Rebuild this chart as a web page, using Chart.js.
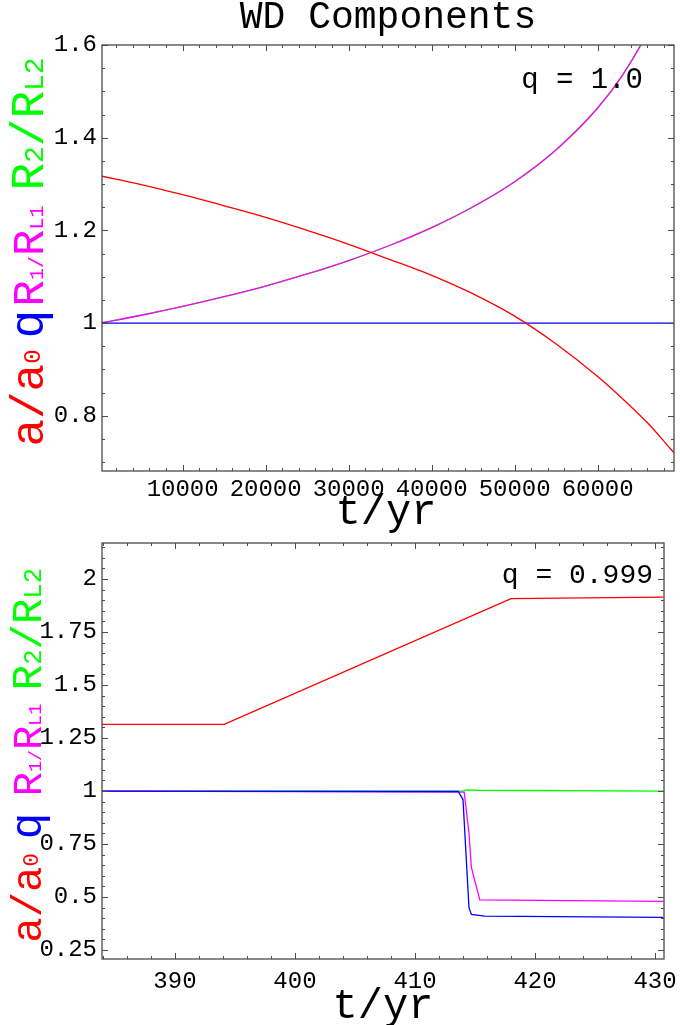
<!DOCTYPE html>
<html>
<head>
<meta charset="utf-8">
<title>WD Components</title>
<script src="https://cdn.jsdelivr.net/npm/chart.js@4.4.1/dist/chart.umd.min.js"></script>
<style>
body { margin: 0; background: #fff; width: 680px; height: 1025px; position: relative; overflow: hidden; }
canvas { position: absolute; left: 0; }
#topPanel { top: 0; }
#bottomPanel { top: 535px; }
</style>
</head>
<body>
<canvas id="topPanel" width="680" height="540"></canvas>
<canvas id="bottomPanel" width="680" height="490"></canvas>
<script>
// ===== top panel data (q = 1.0), time in yr
const topTime = [0, 5000, 10000, 15000, 20000, 25000, 30000, 35000, 40000, 45000, 50000, 55000, 60000, 63000, 66000, 68000, 69200];
const topSep = [1.318, 1.299, 1.277, 1.253, 1.228, 1.200, 1.170, 1.137, 1.103, 1.063, 1.015, 0.955, 0.885, 0.837, 0.785, 0.745, 0.720];
const topQ = [1, 1, 1, 1, 1, 1, 1, 1, 1, 1, 1, 1, 1, 1, 1, 1, 1];
const topR1 = [1.000, 1.017, 1.036, 1.057, 1.080, 1.106, 1.135, 1.168, 1.206, 1.251, 1.305, 1.374, 1.464, 1.535, 1.627, 1.706, 1.763];
const topR2 = [1.000, 1.017, 1.036, 1.057, 1.080, 1.106, 1.135, 1.168, 1.206, 1.251, 1.305, 1.374, 1.464, 1.535, 1.627, 1.706, 1.763];
const topTimeTicks = [10000, 20000, 30000, 40000, 50000, 60000];
const topValueTicks = [0.8, 1, 1.2, 1.4, 1.6];

// ===== bottom panel data (q = 0.999)
const botSepTime = [383.9, 394.1, 418.0, 430.7];
const botSep = [1.315, 1.315, 1.908, 1.915];
const botQTime = [383.9, 413.6, 414.0, 414.5, 414.7, 415.8, 430.7];
const botQ = [1.0, 0.998, 0.96, 0.45, 0.418, 0.41, 0.404];
const botR1Time = [383.9, 414.1, 414.5, 414.7, 415.4, 430.7];
const botR1 = [1.0, 0.995, 0.8, 0.64, 0.487, 0.48];
const botR2Time = [383.9, 413.9, 414.3, 415.2, 430.7];
const botR2 = [1.0, 1.0, 1.006, 1.004, 1.0];
const botTimeTicks = [390, 400, 410, 420, 430];
const botValueTicks = [0.25, 0.5, 0.75, 1, 1.25, 1.5, 1.75, 2];

const FONT = '"Liberation Mono", "DejaVu Sans Mono", monospace';
const RED = '#ff0000', BLUE = '#0000ff', MAGENTA = '#ff00ff', GREEN = '#00ff00';

const pairs = (xs, ys) => xs.map((x, i) => ({x: x, y: ys[i]}));
const line = (xs, ys, color, smooth) => ({
    data: pairs(xs, ys),
    borderColor: color,
    borderWidth: 1.3,
    pointRadius: 0,
    fill: false,
    cubicInterpolationMode: smooth ? 'monotone' : 'default',
    tension: 0
});

// frame with inward major / minor ticks on all four sides (Mathematica style)
const frameTicks = {
    id: 'frameTicks',
    afterDatasetsDraw(chart, args, o) {
        const {ctx, chartArea: a, scales: {x, y}} = chart;
        ctx.save();
        ctx.strokeStyle = '#4a4a4a';
        ctx.lineWidth = 1.3;
        ctx.strokeRect(a.left, a.top, a.right - a.left, a.bottom - a.top);
        ctx.lineWidth = 1;
        const xt = (v, len) => {
            const px = Math.round(x.getPixelForValue(v)) + 0.5;
            if (px < a.left || px > a.right) return;
            ctx.moveTo(px, a.bottom); ctx.lineTo(px, a.bottom - len);
            ctx.moveTo(px, a.top); ctx.lineTo(px, a.top + len);
        };
        const yt = (v, len) => {
            const py = Math.round(y.getPixelForValue(v)) + 0.5;
            if (py < a.top || py > a.bottom) return;
            ctx.moveTo(a.left, py); ctx.lineTo(a.left + len, py);
            ctx.moveTo(a.right, py); ctx.lineTo(a.right - len, py);
        };
        ctx.beginPath();
        for (let v = o.xStart; v <= x.max; v += o.xMinor) xt(v, 3);
        for (let v = o.yStart; v <= y.max; v += o.yMinor) yt(v, 3);
        o.xMajor.forEach(v => xt(v, 6));
        o.yMajor.forEach(v => yt(v, 6));
        ctx.stroke();
        ctx.restore();
    }
};

// rotated multi-colour y label + plain texts (title, q value, t/yr)
const panelText = {
    id: 'panelText',
    afterDraw(chart, args, o) {
        const ctx = chart.ctx;
        ctx.save();
        ctx.textBaseline = 'alphabetic';
        o.groups.forEach(g => {
            let w = 0;
            g.parts.forEach(p => {
                ctx.font = (p[1] * o.scale) + 'px ' + FONT;
                w += ctx.measureText(p[0]).width;
            });
            ctx.save();
            ctx.translate(o.x, g.c + w / 2);
            ctx.rotate(-Math.PI / 2);
            ctx.fillStyle = g.color;
            ctx.textAlign = 'left';
            let pos = 0;
            g.parts.forEach(p => {
                ctx.font = (p[1] * o.scale) + 'px ' + FONT;
                ctx.fillText(p[0], pos, (p[2] || 0) * o.scale);
                pos += ctx.measureText(p[0]).width;
            });
            ctx.restore();
        });
        ctx.fillStyle = '#000';
        o.texts.forEach(t => {
            ctx.font = t.size + 'px ' + FONT;
            ctx.textAlign = t.align;
            ctx.fillText(t.text, t.x, t.y);
        });
        ctx.restore();
    }
};

const labelGroups = (cRed, cBlue, cMag, cGreen) => [
    {color: RED, c: cRed, parts: [['a', 46], ['/', 46], ['a', 46], ['0', 24, -3]]},
    {color: BLUE, c: cBlue, parts: [['q', 48]]},
    {color: MAGENTA, c: cMag, parts: [['R', 44], ['1', 20], ['/', 20], ['R', 44], ['L1', 20]]},
    {color: GREEN, c: cGreen, parts: [['R', 46], ['2', 28], ['/', 46], ['R', 46], ['L2', 28]]}
];

const makeScales = (xMin, xMax, xTicks, yMin, yMax, yTicks, xHeight, pad) => ({
    x: {
        type: 'linear', min: xMin, max: xMax,
        afterBuildTicks: s => { s.ticks = xTicks.map(v => ({value: v})); },
        afterFit: s => { s.height = xHeight; s.paddingLeft = 0; s.paddingRight = 0; },
        grid: {display: false, drawTicks: false}, border: {display: false},
        ticks: {autoSkip: false, maxRotation: 0, padding: pad, color: '#000',
                font: {family: FONT, size: 24}, callback: v => String(v)}
    },
    y: {
        type: 'linear', min: yMin, max: yMax,
        afterBuildTicks: s => { s.ticks = yTicks.map(v => ({value: v})); },
        afterFit: s => { s.width = 102; s.paddingTop = 0; s.paddingBottom = 0; },
        grid: {display: false, drawTicks: false}, border: {display: false},
        ticks: {autoSkip: false, padding: 5, color: '#000',
                font: {family: FONT, size: 24}, callback: v => String(v)}
    }
});

const baseOptions = {
    responsive: false,
    animation: false,
    devicePixelRatio: 1,
    events: []
};

// ===== top chart (first dataset is drawn on top)
new Chart(document.querySelector('#topPanel'), {
    type: 'line',
    data: {datasets: [
        line(topTime, topSep, RED, true),
        line(topTime, topQ, BLUE, false),
        line(topTime, topR1, MAGENTA, true),
        line(topTime, topR2, GREEN, true)
    ]},
    options: Object.assign({}, baseOptions, {
        layout: {padding: {left: 0, right: 6, top: 45, bottom: 0}},
        scales: makeScales(280, 69200, topTimeTicks, 0.681, 1.6, topValueTicks, 69, 4),
        plugins: {
            legend: {display: false}, tooltip: {enabled: false},
            frameTicks: {xStart: 2000, xMinor: 2000, xMajor: topTimeTicks,
                         yStart: 0.7, yMinor: 0.05, yMajor: topValueTicks},
            panelText: {
                x: 43, scale: 1,
                groups: labelGroups(398, 324, 256, 124),
                texts: [
                    {text: 'WD Components', x: 388, y: 28, size: 38, align: 'center'},
                    {text: 'q = 1.0', x: 643, y: 88, size: 29, align: 'right'},
                    {text: 't/yr', x: 386, y: 524, size: 42, align: 'center'}
                ]
            }
        }
    }),
    plugins: [frameTicks, panelText]
});

// ===== bottom chart
new Chart(document.querySelector('#bottomPanel'), {
    type: 'line',
    data: {datasets: [
        line(botSepTime, botSep, RED, false),
        line(botQTime, botQ, BLUE, false),
        line(botR1Time, botR1, MAGENTA, false),
        line(botR2Time, botR2, GREEN, false)
    ]},
    options: Object.assign({}, baseOptions, {
        layout: {padding: {left: 0, right: 16, top: 8, bottom: 0}},
        scales: makeScales(383.92, 430.75, botTimeTicks, 0.208, 2.17, botValueTicks, 66, 8),
        plugins: {
            legend: {display: false}, tooltip: {enabled: false},
            frameTicks: {xStart: 384, xMinor: 2, xMajor: botTimeTicks,
                         yStart: 0.25, yMinor: 0.05, yMajor: botValueTicks},
            panelText: {
                x: 41, scale: 0.92,
                groups: labelGroups(363, 291, 215, 94),
                texts: [
                    {text: 'q = 0.999', x: 653, y: 48, size: 28, align: 'right'},
                    {text: 't/yr', x: 383, y: 483, size: 42, align: 'center'}
                ]
            }
        }
    }),
    plugins: [frameTicks, panelText]
});
</script>
</body>
</html>
